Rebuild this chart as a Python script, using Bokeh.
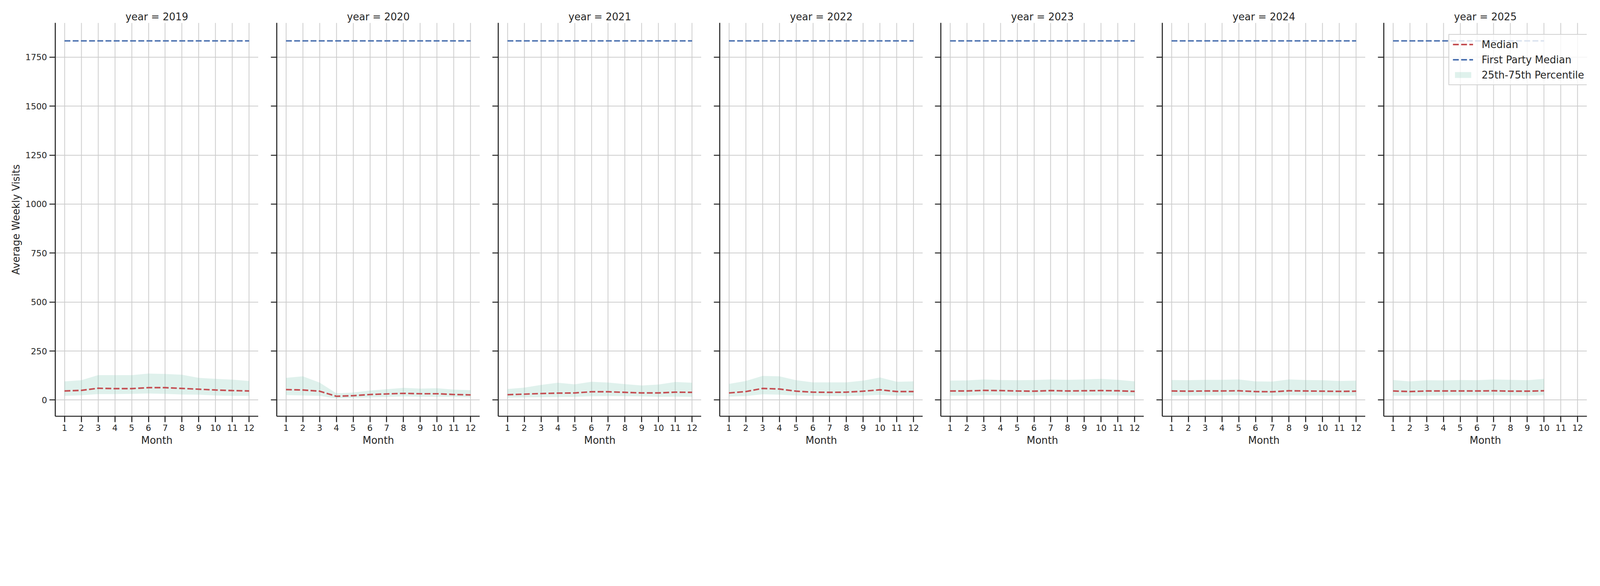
from bokeh.plotting import figure
from bokeh.layouts import row
from bokeh.models import FixedTicker, Range1d, Legend, LegendItem, CustomJSTickFormatter
from bokeh.embed import file_html
from bokeh.resources import INLINE

# ---------------- data ----------------
years = [2019, 2020, 2021, 2022, 2023, 2024, 2025]
months = [1, 2, 3, 4, 5, 6, 7, 8, 9, 10, 11, 12]
y_ticks = [0, 250, 500, 750, 1000, 1250, 1500, 1750]

median_2019 = [46, 49, 60, 58, 58, 63, 63, 59, 55, 51, 48, 46]
q75_2019 = [95, 101, 127, 127, 127, 135, 133, 129, 113, 108, 104, 97]
q25_2019 = [21, 24, 30, 30, 31, 33, 31, 28, 27, 23, 21, 21]

median_2020 = [53, 51, 45, 19, 22, 28, 31, 34, 32, 32, 28, 26]
q75_2020 = [113, 121, 89, 34, 38, 48, 55, 62, 58, 60, 53, 50]
q25_2020 = [25, 23, 21, 8, 11, 13, 15, 18, 16, 16, 15, 13]

median_2021 = [27, 30, 33, 35, 36, 42, 42, 39, 36, 36, 40, 39]
q75_2021 = [56, 63, 77, 88, 80, 93, 89, 81, 74, 79, 92, 88]
q25_2021 = [12, 13, 14, 15, 16, 19, 20, 19, 18, 16, 17, 16]

median_2022 = [36, 43, 59, 56, 45, 40, 39, 40, 45, 52, 43, 43]
q75_2022 = [82, 97, 123, 121, 101, 90, 90, 90, 99, 115, 93, 95]
q25_2022 = [17, 20, 29, 27, 23, 21, 20, 20, 22, 26, 22, 22]

median_2023 = [46, 46, 49, 48, 46, 45, 48, 46, 47, 48, 47, 44]
q75_2023 = [99, 100, 105, 102, 101, 102, 105, 103, 105, 108, 103, 95]
q25_2023 = [22, 22, 25, 24, 22, 23, 25, 23, 23, 24, 23, 21]

median_2024 = [46, 45, 46, 46, 47, 43, 42, 47, 46, 45, 44, 45]
q75_2024 = [102, 101, 103, 103, 105, 95, 94, 105, 102, 101, 97, 99]
q25_2024 = [22, 22, 23, 23, 24, 22, 21, 24, 23, 23, 22, 22]

median_2025 = [46, 43, 46, 46, 46, 46, 47, 45, 45, 47]
q75_2025 = [102, 95, 101, 100, 102, 101, 105, 103, 101, 108]
q25_2025 = [22, 21, 22, 23, 23, 23, 24, 23, 22, 24]

first_party_median = [1833, 1833, 1833, 1833, 1833, 1833, 1833]

medians = [median_2019, median_2020, median_2021, median_2022, median_2023, median_2024, median_2025]
q75s = [q75_2019, q75_2020, q75_2021, q75_2022, q75_2023, q75_2024, q75_2025]
q25s = [q25_2019, q25_2020, q25_2021, q25_2022, q25_2023, q25_2024, q25_2025]

# ---------------- style ----------------
FONT = "DejaVu Sans"
TXT = "#262626"
RED = "#c44e52"
BLUE = "#4c72b0"
BAND = "#94d0c0"
GRID = "#cccccc"
DASH = "15 6"

left_borders = [141, 47, 47, 47, 46, 47, 47]

panels = []
for i, yr in enumerate(years):
    med = medians[i]
    hi = q75s[i]
    lo = q25s[i]
    xs = months[:len(med)]
    fp = [first_party_median[i]] * len(xs)

    p = figure(frame_width=520, frame_height=1007,
               x_range=Range1d(0.45, 12.55), y_range=Range1d(-83, 1925),
               min_border_left=left_borders[i],
               min_border_right=(12 if i == len(years) - 1 else 0),
               min_border_top=58, min_border_bottom=92,
               output_backend="svg", toolbar_location=None,
               title=f"year = {yr}")
    p.outline_line_color = None
    p.background_fill_color = "white"
    p.border_fill_color = "white"

    p.title.text_font = FONT
    p.title.text_font_size = "25.7px"
    p.title.text_font_style = "normal"
    p.title.text_color = TXT
    p.title.align = "center"
    p.title.standoff = 2

    p.xaxis.ticker = FixedTicker(ticks=months)
    p.yaxis.ticker = FixedTicker(ticks=y_ticks)
    p.xaxis.axis_label = "Month"
    if i == 0:
        p.yaxis.axis_label = "Average Weekly Visits"
        p.yaxis.major_label_standoff = 6
        p.yaxis.axis_label_standoff = 6
    else:
        p.yaxis.formatter = CustomJSTickFormatter(code="return '';")
        p.yaxis.major_label_standoff = 0

    for ax in (p.xaxis, p.yaxis):
        ax.axis_line_color = TXT
        ax.axis_line_width = 2.7
        ax.major_tick_line_color = TXT
        ax.major_tick_line_width = 2.7
        ax.major_tick_out = 15
        ax.major_tick_in = 0
        ax.minor_tick_out = 0
        ax.minor_tick_in = 0
        ax.major_label_text_font = FONT
        ax.major_label_text_font_size = "21.8px"
        ax.major_label_text_color = TXT
        ax.axis_label_text_font = FONT
        ax.axis_label_text_font_size = "25.7px"
        ax.axis_label_text_font_style = "normal"
        ax.axis_label_text_color = TXT
    p.xaxis.major_label_standoff = 6
    p.xaxis.axis_label_standoff = 6

    for g in (p.xgrid, p.ygrid):
        g.grid_line_color = GRID
        g.grid_line_width = 2

    band = p.varea(x=xs, y1=lo, y2=hi, fill_color=BAND, fill_alpha=0.3)
    medline = p.line(xs, med, line_color=RED, line_width=3.9, line_dash=DASH)
    fpline = p.line(xs, fp, line_color=BLUE, line_width=3.9, line_dash=DASH)

    if i == len(years) - 1:
        legend = Legend(items=[
            LegendItem(label="Median", renderers=[medline]),
            LegendItem(label="First Party Median", renderers=[fpline]),
            LegendItem(label="25th-75th Percentile", renderers=[band]),
        ], location=(166, 847))
        legend.label_text_font = FONT
        legend.label_text_font_size = "25.7px"
        legend.label_text_color = TXT
        legend.glyph_width = 52
        legend.glyph_height = 19
        legend.label_height = 31
        legend.spacing = 8
        legend.padding = 9
        legend.margin = 0
        legend.label_standoff = 22
        legend.border_line_color = GRID
        legend.border_line_width = 2
        legend.border_line_alpha = 0.9
        legend.background_fill_color = "white"
        legend.background_fill_alpha = 0.8
        p.add_layout(legend)

    panels.append(p)

layout = row(*panels, spacing=0)
open("out.html", "w").write(file_html(layout, INLINE))
